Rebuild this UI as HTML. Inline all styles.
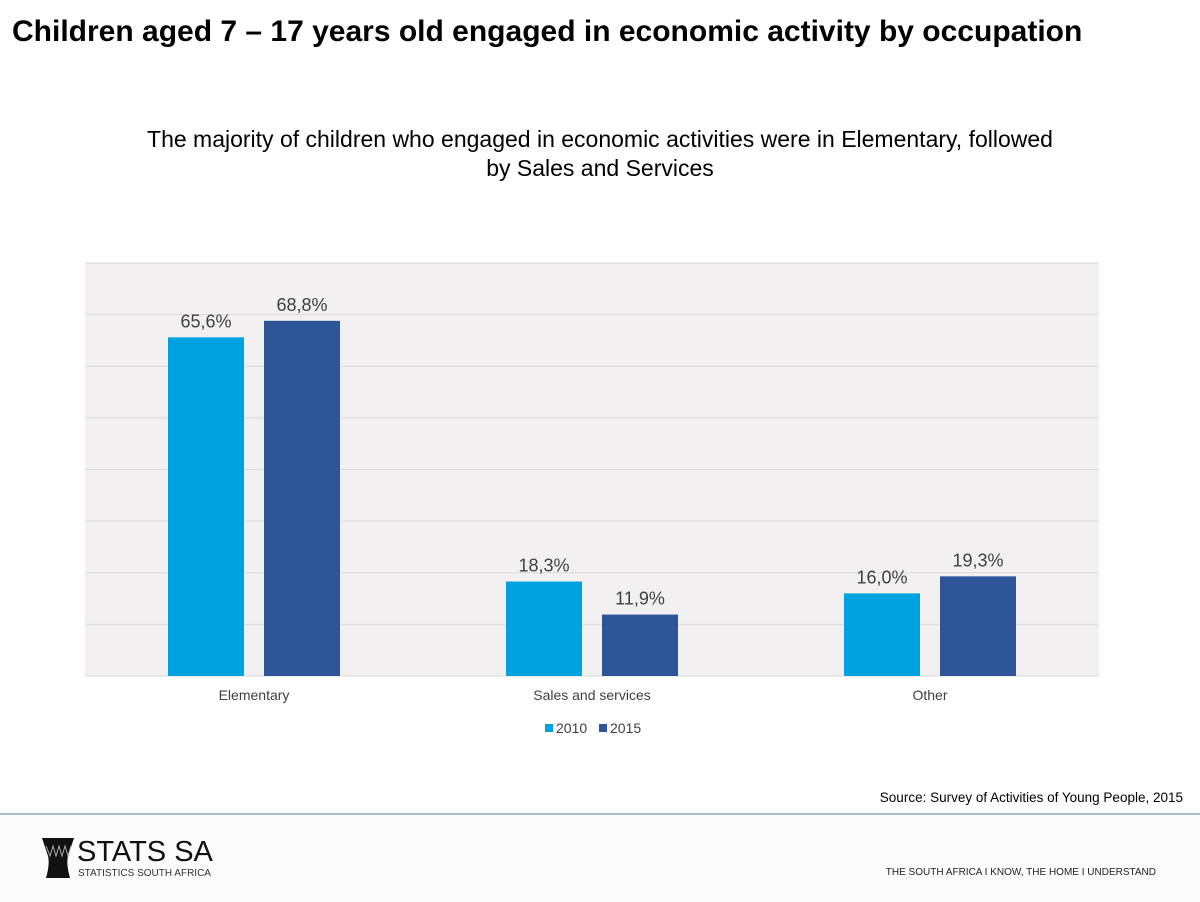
<!DOCTYPE html>
<html><head><meta charset="utf-8"><style>
body{margin:0;width:1200px;height:900px;background:#fff;font-family:"Liberation Sans",sans-serif;position:relative;overflow:hidden}
.abs{position:absolute}
</style></head><body>
<div class="abs" style="left:12px;top:15px;font-size:30px;font-weight:bold;color:#000;white-space:nowrap">Children aged 7 – 17 years old engaged in economic activity by occupation</div>
<div class="abs" style="left:50px;width:1100px;top:125px;text-align:center;font-size:23px;line-height:29px;color:#000">The majority of children who engaged in economic activities were in Elementary, followed<br>by Sales and Services</div>
<svg class="abs" style="left:0;top:0" width="1200" height="780">
<rect x="85" y="263" width="1014" height="413" fill="#f2f0f1"/>
<g id="grid"></g><g id="bars"></g>
<g font-family="Liberation Sans" font-size="14" fill="#404040">
<rect x="545" y="724" width="8" height="8" fill="#00a2e0"/><text x="556" y="733">2010</text>
<rect x="599" y="724" width="8" height="8" fill="#2e5597"/><text x="610" y="733">2015</text>
</g>
</svg>
<div class="abs" style="right:17px;top:790px;font-size:13.5px;color:#000">Source: Survey of Activities of Young People, 2015</div>
<div class="abs" style="left:0;top:813px;width:1200px;height:87px;background:#fcfcfc;border-top:2px solid #a9bccb"></div>
<svg class="abs" style="left:40px;top:836px" width="36" height="44">
<path d="M2 2 H34 L28 20 Q26 28 30 42 H6 Q10 28 8 20 Z" fill="#111"/>
<path d="M6 10 L10 20 L13 10 L16 20 L19 10 L22 20 L25 10 L28 20 L31 10" stroke="#aaa" stroke-width="1" fill="none"/>
</svg>
<div class="abs" style="left:77px;top:836px;font-size:29px;color:#111">STATS SA</div>
<div class="abs" style="left:78px;top:868px;font-size:10px;color:#333">STATISTICS SOUTH AFRICA</div>
<div class="abs" style="right:44px;top:867px;font-size:10px;color:#222">THE SOUTH AFRICA I KNOW, THE HOME I UNDERSTAND</div>
<script>
const categories=["Elementary","Sales and services","Other"];
const values2010=[65.6,18.3,16.0];
const values2015=[68.8,11.9,19.3];
const yTicks=[0,10,20,30,40,50,60,70,80];
const NS="http://www.w3.org/2000/svg";
const x0=85,w=1014,y0=676,h=413,ymax=80;
const y=v=>y0-v/ymax*h;
const band=w/categories.length;
const grid=document.getElementById('grid'),bars=document.getElementById('bars');
function mk(t,a,p){const e=document.createElementNS(NS,t);for(const k in a)e.setAttribute(k,a[k]);p.appendChild(e);return e;}
yTicks.forEach(t=>{const l=mk('line',{x1:x0,x2:x0+w,y1:y(t),y2:y(t),stroke:'#d9d9d9','stroke-width':1},grid);

});
const fmt=v=>v.toFixed(1).replace('.',',')+'%';
categories.forEach((c,i)=>{const cx=x0+band*(i+0.5);
[[values2010,'#00a2e0',cx-86,'2010'],[values2015,'#2e5597',cx+10,'2015']].forEach(([arr,col,bx,yr])=>{
const v=arr[i];const r=mk('rect',{x:bx,y:y(v),width:76,height:y0-y(v),fill:col},bars);


const t=mk('text',{x:bx+38,y:y(v)-10,'text-anchor':'middle','font-size':18,fill:'#404040','font-family':'Liberation Sans'},bars);t.textContent=fmt(v);

});
const tl=mk('text',{x:cx,y:700,'text-anchor':'middle','font-size':14,fill:'#404040','font-family':'Liberation Sans'},bars);tl.textContent=c;

});
</script>
</body></html>
